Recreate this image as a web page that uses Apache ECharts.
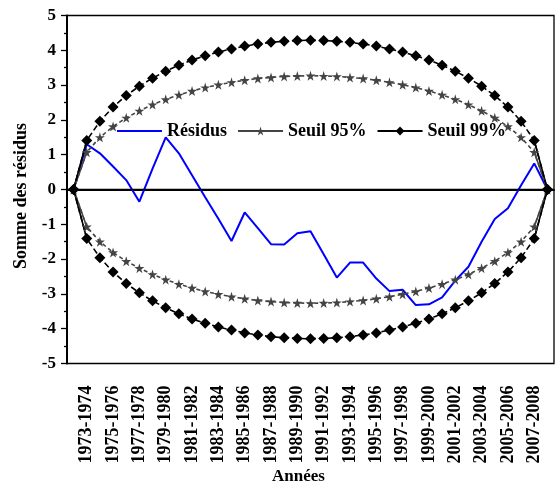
<!DOCTYPE html>
<html>
<head>
<meta charset="utf-8">
<script src="https://cdn.jsdelivr.net/npm/echarts@6/dist/echarts.min.js"></script>
<style>html,body{margin:0;padding:0;background:#fff;}#c{width:560px;height:489px;}</style>
</head>
<body>
<div id="c"></div>
<script>
const categories = ['1972-1973','1973-1974','1974-1975','1975-1976','1976-1977','1977-1978','1978-1979','1979-1980','1980-1981','1981-1982','1982-1983','1983-1984','1984-1985','1985-1986','1986-1987','1987-1988','1988-1989','1989-1990','1990-1991','1991-1992','1992-1993','1993-1994','1994-1995','1995-1996','1996-1997','1997-1998','1998-1999','1999-2000','2000-2001','2001-2002','2002-2003','2003-2004','2004-2005','2005-2006','2006-2007','2007-2008','2008-2009'];
const residus = [0, 1.30, 1.04, 0.66, 0.27, -0.35, 0.60, 1.50, 1.04, 0.41, -0.22, -0.84, -1.48, -0.66, -1.11, -1.57, -1.58, -1.26, -1.20, -1.86, -2.53, -2.10, -2.10, -2.56, -2.92, -2.88, -3.32, -3.30, -3.10, -2.62, -2.22, -1.50, -0.85, -0.54, 0.12, 0.75, 0];
const seuil95Haut = [0, 1.07, 1.50, 1.81, 2.06, 2.26, 2.44, 2.59, 2.72, 2.83, 2.93, 3.01, 3.08, 3.14, 3.19, 3.22, 3.25, 3.26, 3.27, 3.26, 3.25, 3.22, 3.19, 3.14, 3.08, 3.01, 2.93, 2.83, 2.72, 2.59, 2.44, 2.26, 2.06, 1.81, 1.50, 1.07, 0];
const seuil95Bas = [0, -1.07, -1.50, -1.81, -2.06, -2.26, -2.44, -2.59, -2.72, -2.83, -2.93, -3.01, -3.08, -3.14, -3.19, -3.22, -3.25, -3.26, -3.27, -3.26, -3.25, -3.22, -3.19, -3.14, -3.08, -3.01, -2.93, -2.83, -2.72, -2.59, -2.44, -2.26, -2.06, -1.81, -1.50, -1.07, 0];
const seuil99Haut = [0, 1.41, 1.96, 2.37, 2.70, 2.97, 3.20, 3.40, 3.57, 3.72, 3.84, 3.95, 4.04, 4.12, 4.18, 4.23, 4.26, 4.28, 4.29, 4.28, 4.26, 4.23, 4.18, 4.12, 4.04, 3.95, 3.84, 3.72, 3.57, 3.40, 3.20, 2.97, 2.70, 2.37, 1.96, 1.41, 0];
const seuil99Bas = [0, -1.41, -1.96, -2.37, -2.70, -2.97, -3.20, -3.40, -3.57, -3.72, -3.84, -3.95, -4.04, -4.12, -4.18, -4.23, -4.26, -4.28, -4.29, -4.28, -4.26, -4.23, -4.18, -4.12, -4.04, -3.95, -3.84, -3.72, -3.57, -3.40, -3.20, -2.97, -2.70, -2.37, -1.96, -1.41, 0];

const FONT = "'Liberation Serif','Times New Roman',serif";
const STAR = 'path://M50,0 L61,35 L98,35 L68,57 L79,91 L50,70 L21,91 L32,57 L2,35 L39,35 Z';
const last = categories.length - 1;
function ends(arr){ return arr.map((v,i)=> (i<=1 || i>=last-1) ? v : '-'); }

function seuil(name, data, color, symbol, size, dash){
  return {
    type:'line', name:name, data:data, symbol:symbol, symbolSize:size, showSymbol:true, showAllSymbol:true,
    itemStyle:{color:color}, lineStyle:{color:color, width:1.6, type:dash},
    emphasis:{disabled:true}, z:3
  };
}
function seuilEnds(data, color){
  return {type:'line', name:'_ends', data:ends(data), symbol:'none', lineStyle:{color:color, width:1.6, type:'solid'}, emphasis:{disabled:true}, z:2};
}

const chart = echarts.init(document.getElementById('c'), null, {renderer:'canvas'});
chart.setOption({
  animation:false,
  backgroundColor:'#fff',
  grid:{left:67, right:6, top:15.5, bottom:125.5, show:true, borderColor:'#000', borderWidth:1.3, backgroundColor:'transparent'},
  legend:{
    left:116, top:122, padding:0, itemWidth:45, itemHeight:11, itemGap:10,
    textStyle:{fontFamily:FONT, fontWeight:'bold', fontSize:18, color:'#000'},
    lineStyle:{type:'solid'},
    data:[{name:'Résidus', itemStyle:{opacity:0}},'Seuil 95%','Seuil 99%']
  },
  xAxis:[{
    type:'category', data:categories, boundaryGap:true, position:'bottom',
    axisLine:{lineStyle:{color:'#000', width:2}},
    axisTick:{alignWithLabel:true, interval:(i)=> i%2===1, length:6, lineStyle:{color:'#000', width:1.3}},
    axisLabel:{interval:(i)=> i%2===1, rotate:90, fontFamily:FONT, fontWeight:'bold', fontSize:18, color:'#000', margin:22},
    splitLine:{show:false}
  },{
    type:'category', data:categories, boundaryGap:true, position:'bottom',
    axisLine:{show:false},
    axisTick:{alignWithLabel:true, interval:0, length:3, lineStyle:{color:'#000', width:1.3}},
    axisLabel:{show:false}, splitLine:{show:false}
  }],
  yAxis:{
    type:'value', min:-5, max:5, interval:1,
    axisLine:{show:true, lineStyle:{color:'#000', width:2}},
    axisTick:{show:true, length:6, lineStyle:{color:'#000', width:1.3}},
    minorTick:{show:true, splitNumber:2, length:3, lineStyle:{color:'#000', width:1.3}},
    splitLine:{show:false},
    axisLabel:{fontFamily:FONT, fontWeight:'bold', fontSize:17, color:'#000', margin:11}
  },
  series:[
    {type:'line', name:'Résidus', data:residus, symbol:'none', lineStyle:{color:'#0000ff', width:2}, itemStyle:{color:'#0000ff'}, emphasis:{disabled:true}, z:2,
     markLine:{silent:true, symbol:['none','none'], label:{show:false}, lineStyle:{color:'#000', width:1.3, type:'solid'}, data:[{yAxis:0}]}},
    seuilEnds(seuil95Haut, '#444'),
    seuilEnds(seuil95Bas, '#444'),
    seuilEnds(seuil99Haut, '#000'),
    seuilEnds(seuil99Bas, '#000'),
    seuil('Seuil 95%', seuil95Haut, '#444', STAR, 10, [4,3]),
    seuil('Seuil 95%', seuil95Bas, '#444', STAR, 10, [4,3]),
    seuil('Seuil 99%', seuil99Haut, '#000', 'diamond', 11, [6,3]),
    seuil('Seuil 99%', seuil99Bas, '#000', 'diamond', 11, [6,3])
  ],
  graphic:[
    {type:'text', x:21, y:196, rotation:Math.PI/2, style:{text:'Somme des résidus', font:"bold 18px "+FONT, fill:'#000', textAlign:'center', textVerticalAlign:'middle'}},
    {type:'text', x:298.5, y:477, style:{text:'Années', font:"bold 17px "+FONT, fill:'#000', textAlign:'center', textVerticalAlign:'middle'}}
  ]
});
</script>
</body>
</html>
